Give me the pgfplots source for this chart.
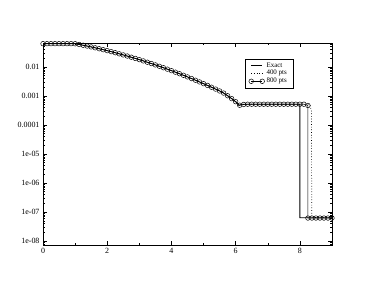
\documentclass[border=0pt]{standalone}
\usepackage{pgfplots}
\pgfplotsset{compat=1.18}
\usepackage{pgfplotstable}
\usepackage{fontspec}
\setmainfont{Liberation Serif}

\pgfplotstableread{
x y
0 0.0635
1 0.0635
1.25 0.0561
1.5 0.0491
1.75 0.0425
2 0.0365
2.25 0.0310
2.5 0.0260
2.75 0.0217
3 0.0179
3.25 0.01457
3.5 0.01177
3.75 0.00942
4 0.00746
4.25 0.00585
4.5 0.00454
4.75 0.00349
5 0.002655
5.25 0.0020
5.5 0.00149
5.625 0.00126
5.75 0.00102
5.875 0.00081
6 0.000635
6.1 0.00047
6.2 0.00052
8 0.00052
8 6.4e-8
9 6.4e-8
}\exact

\pgfplotstableread{
x y
0 0.0635
1 0.0630
1.25 0.0563
1.5 0.0491
1.75 0.0425
2 0.0365
2.25 0.0310
2.5 0.0260
2.75 0.0217
3 0.0179
3.25 0.01457
3.5 0.01177
3.75 0.00942
4 0.00746
4.25 0.00585
4.5 0.00454
4.75 0.00349
5 0.002655
5.25 0.0020
5.5 0.00149
5.625 0.00126
5.75 0.00102
5.875 0.00083
6 0.00066
6.1 0.00051
6.2 0.00050
6.3 0.00052
8.25 0.00052
8.32 0.00047
8.36 0.0003
8.37 6.5e-8
9 6.5e-8
}\fourhundred

\pgfplotstableread{
x y
0 0.0635
0.125 0.0635
0.25 0.0635
0.375 0.0635
0.5 0.0635
0.625 0.0635
0.75 0.0635
0.875 0.0635
1 0.0632
1.125 0.0598
1.25 0.0561
1.375 0.0526
1.5 0.0491
1.625 0.0458
1.75 0.0425
1.875 0.0394
2 0.0365
2.125 0.0337
2.25 0.0310
2.375 0.0284
2.5 0.0260
2.625 0.0238
2.75 0.0217
2.875 0.0197
3 0.0179
3.125 0.01616
3.25 0.01457
3.375 0.01312
3.5 0.01177
3.625 0.01055
3.75 0.00942
3.875 0.00839
4 0.00746
4.125 0.00661
4.25 0.00585
4.375 0.00516
4.5 0.00454
4.625 0.00399
4.75 0.00349
4.875 0.00305
5 0.002655
5.125 0.00231
5.25 0.0020
5.375 0.00173
5.5 0.00149
5.625 0.00126
5.75 0.00102
5.875 0.00081
6 0.000635
6.125 0.00048
6.25 0.00051
6.375 0.00052
6.5 0.00052
6.625 0.00052
6.75 0.00052
6.875 0.00052
7 0.00052
7.125 0.00052
7.25 0.00052
7.375 0.00052
7.5 0.00052
7.625 0.00052
7.75 0.00052
7.875 0.00052
8 0.00052
8.125 0.00052
8.25 0.00047
8.25 6.2e-8
8.375 6.2e-8
8.5 6.2e-8
8.625 6.2e-8
8.75 6.2e-8
8.875 6.2e-8
9 6.2e-8
}\eighthundred

\begin{document}
\begin{tikzpicture}
\begin{axis}[
  scale only axis, width=289bp, height=202bp,
  ymode=log,
  xmin=0, xmax=9, ymin=7.3e-9, ymax=0.067,
  xtick={0,2,4,6,8}, minor xtick={1,3,5,7},
  ytick={1e-8,1e-7,1e-6,1e-5,1e-4,1e-3,1e-2},
  yticklabels={1e-08,1e-07,1e-06,1e-05,0.0001,0.001,0.01},
  minor ytick={8e-9,9e-9,
    2e-8,3e-8,4e-8,5e-8,6e-8,7e-8,8e-8,9e-8,
    2e-7,3e-7,4e-7,5e-7,6e-7,7e-7,8e-7,9e-7,
    2e-6,3e-6,4e-6,5e-6,6e-6,7e-6,8e-6,9e-6,
    2e-5,3e-5,4e-5,5e-5,6e-5,7e-5,8e-5,9e-5,
    2e-4,3e-4,4e-4,5e-4,6e-4,7e-4,8e-4,9e-4,
    2e-3,3e-3,4e-3,5e-3,6e-3,7e-3,8e-3,9e-3,
    2e-2,3e-2,4e-2,5e-2,6e-2},
  major tick length=4bp, minor tick length=2bp,
  tick style={black, line width=0.5pt},
  tick align=inside,
  axis line style={line width=0.8pt},
  tick label style={font=\fontsize{8}{9}\selectfont},
  /pgf/number format/assume math mode=true,
  legend image code/.code={\draw[#1] plot coordinates {(0bp,0bp) (11bp,0bp)};},
  legend style={at={(0.698,0.922)}, anchor=north west,
    font=\fontsize{7}{8}\selectfont, draw=black, line width=0.4pt,
    inner xsep=4bp, inner ysep=1.5bp, row sep=-2.2pt},
  legend cell align=left,
]
\addplot[black, line width=0.8pt] table[x=x,y=y]{\exact};
\addlegendentry{Exact}
\addplot[black, dotted, line width=0.7pt] table[x=x,y=y]{\fourhundred};
\addlegendentry{400 pts}
\addplot[black, line width=0.5pt, mark=o, mark size=2.3bp, mark options={line width=0.5pt}] table[x=x,y=y]{\eighthundred};
\addlegendentry{800 pts}
\coordinate (LL) at (rel axis cs:0,0);
\coordinate (UR) at (rel axis cs:1,1);
\end{axis}
\path (LL) ++(-43bp,-44bp) (UR) ++(42bp,43bp);
\end{tikzpicture}
\end{document}
